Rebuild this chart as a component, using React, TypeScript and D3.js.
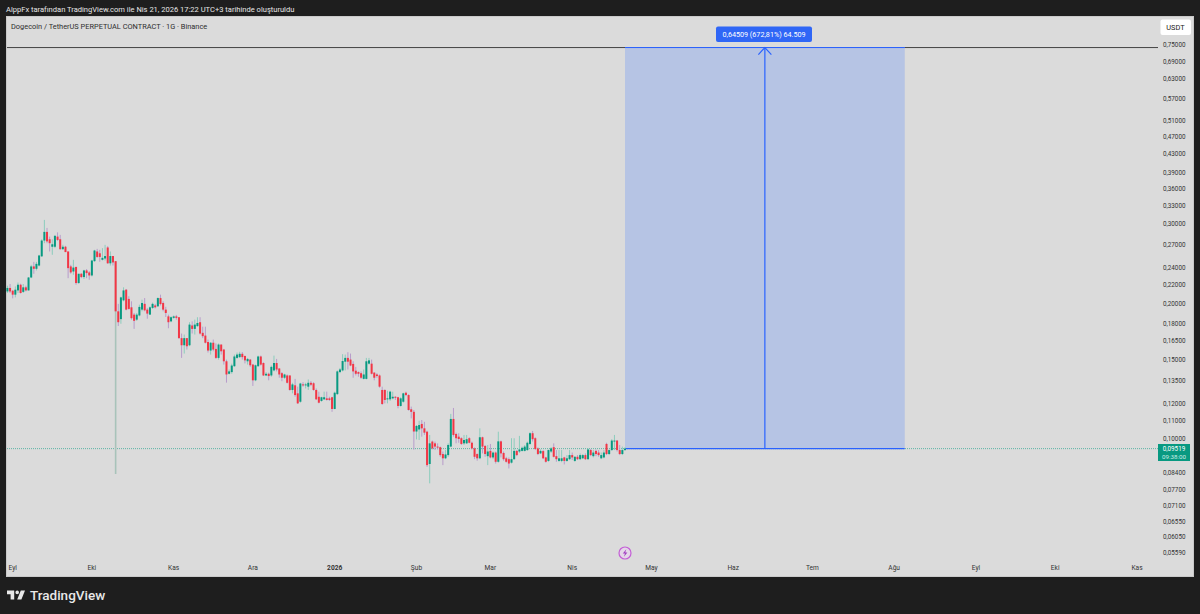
import React from 'react';
import * as d3 from 'd3';

const WIDTH = 1200;
const HEIGHT = 614;
const FONT = "Roboto, 'Noto Sans', sans-serif";

// Daily candles, first one is 2025-08-30
const firstDay = Date.UTC(2025, 7, 30);
const opens = [
  .2127, .2165, .2135, .2092, .2138, .2201, .2122, .2172, .2138, .2284,
  .2417, .2388, .2428, .2545, .2759, .2884, .2777, .2673, .2673, .2815,
  .2777, .2640, .2673, .2609, .2417, .2355, .2410, .2220, .2328, .2289,
  .2368, .2344, .2308, .2483, .2609, .2585, .2500, .2517, .2663, .2456,
  .2549, .2483, .1921, .1846, .2032, .2146, .2047, .1961, .1889, .1841,
  .1881, .1938, .1996, .1938, .1889, .1955, .1980, .1971, .2056, .2005,
  .1938, .1872, .1825, .1858, .1872, .1864, .1675, .1615, .1675, .1615,
  .1787, .1756, .1781, .1817, .1721, .1697, .1642, .1572, .1636, .1585,
  .1514, .1621, .1580, .1488, .1396, .1408, .1451, .1514, .1520, .1546,
  .1529, .1488, .1501, .1463, .1350, .1451, .1525, .1475, .1384, .1396,
  .1384, .1420, .1475, .1434, .1400, .1368, .1384, .1384, .1285, .1316,
  .1263, .1210, .1322, .1316, .1307, .1333, .1330, .1285, .1241, .1215,
  .1225, .1231, .1231, .1238, .1166, .1258, .1408, .1420, .1485, .1514,
  .1501, .1468, .1418, .1408, .1400, .1360, .1360, .1470, .1470, .1404,
  .1391, .1384, .1285, .1285, .1225, .1225, .1231, .1241, .1238, .1184,
  .1210, .1267, .1252, .1164, .1149, .1039, .1050, .1080, .1056, .1038,
  .0880, .0987, .0978, .0962, .0959, .0926, .0906, .0921, .0962, .1108,
  .1026, .1012, .1004, .0978, .0978, .1004, .0981, .0953, .0926, .0906,
  .1009, .0965, .0916, .0941, .0910, .0933, .0890, .0988, .0931, .0906,
  .0902, .0886, .0902, .0941, .0938, .0941, .0941, .0945, .0975, .1030,
  .1004, .0953, .0929, .0940, .0910, .0894, .0938, .0959, .0916, .0894,
  .0894, .0910, .0894, .0902, .0921, .0894, .0913, .0902, .0906, .0921,
  .0902, .0945, .0916, .0941, .0933, .0906, .0910, .0975, .0926, .0945,
  .0987, .0992, .0945, .0926, .0945,
];
const highs = [
  .2190, .2209, .2140, .2182, .2226, .2212, .2209, .2190, .2289, .2437,
  .2474, .2474, .2565, .2777, .3066, .2943, .2815, .2777, .2840, .2877,
  .2840, .2699, .2685, .2609, .2437, .2500, .2417, .2328, .2336, .2376,
  .2384, .2360, .2500, .2631, .2644, .2631, .2654, .2699, .2680, .2609,
  .2549, .2483, .1996, .2070, .2172, .2153, .2075, .2022, .1905, .1905,
  .1988, .2039, .2056, .1955, .1971, .2009, .1996, .2063, .2092, .2022,
  .1966, .1889, .1872, .1881, .1886, .1866, .1715, .1706, .1675, .1817,
  .1825, .1841, .1864, .1864, .1776, .1776, .1663, .1642, .1663, .1630,
  .1630, .1621, .1585, .1501, .1427, .1470, .1540, .1556, .1562, .1560,
  .1532, .1514, .1506, .1468, .1463, .1532, .1532, .1480, .1408, .1404,
  .1456, .1532, .1506, .1438, .1408, .1396, .1391, .1384, .1333, .1360,
  .1307, .1333, .1337, .1333, .1356, .1345, .1337, .1295, .1274, .1241,
  .1274, .1274, .1241, .1241, .1274, .1420, .1438, .1543, .1540, .1559,
  .1548, .1488, .1446, .1413, .1413, .1427, .1514, .1514, .1501, .1408,
  .1400, .1391, .1307, .1289, .1280, .1280, .1274, .1245, .1241, .1238,
  .1267, .1274, .1257, .1180, .1160, .1074, .1098, .1102, .1092, .1043,
  .1021, .0992, .0987, .0978, .0962, .0938, .0945, .0978, .1137, .1172,
  .1033, .1030, .1009, .1021, .1021, .1009, .0987, .0958, .0929, .1056,
  .1012, .0970, .0970, .0975, .0938, .0938, .1038, .0992, .0938, .0913,
  .0910, .1004, .1004, .0945, .1016, .0962, .0970, .0987, .1035, .1042,
  .1009, .0958, .0948, .0945, .0913, .0948, .0959, .0978, .0945, .0945,
  .0945, .0913, .0921, .0945, .0933, .0916, .0921, .0929, .0926, .0929,
  .0953, .0950, .0945, .0948, .0945, .0933, .0945, .0981, .0948, .0999,
  .1021, .0995, .0970, .0962, .0959,
];
const lows = [
  .2110, .2110, .2053, .2063, .2110, .2103, .2110, .2127, .2138, .2276,
  .2328, .2368, .2417, .2537, .2722, .2722, .2609, .2565, .2654, .2754,
  .2631, .2631, .2601, .2276, .2328, .2316, .2201, .2212, .2276, .2266,
  .2276, .2258, .2296, .2475, .2525, .2475, .2491, .2491, .2449, .2428,
  .2428, .0836, .1782, .1803, .2022, .1931, .1938, .1841, .1756, .1830,
  .1872, .1921, .1921, .1850, .1889, .1945, .1950, .1966, .1980, .1921,
  .1866, .1762, .1817, .1850, .1841, .1669, .1514, .1548, .1580, .1607,
  .1715, .1706, .1776, .1706, .1675, .1630, .1556, .1540, .1566, .1506,
  .1501, .1540, .1463, .1334, .1391, .1396, .1446, .1506, .1514, .1501,
  .1472, .1463, .1446, .1312, .1344, .1446, .1456, .1380, .1380, .1350,
  .1375, .1413, .1413, .1368, .1344, .1360, .1328, .1280, .1263, .1241,
  .1196, .1204, .1307, .1295, .1285, .1311, .1280, .1221, .1200, .1210,
  .1221, .1217, .1215, .1149, .1164, .1252, .1400, .1413, .1420, .1427,
  .1451, .1368, .1384, .1375, .1360, .1356, .1356, .1463, .1391, .1350,
  .1368, .1300, .1190, .1200, .1200, .1215, .1225, .1221, .1170, .1180,
  .1204, .1245, .1156, .1111, .0947, .0998, .0995, .1012, .1021, .0867,
  .0797, .0948, .0945, .0948, .0913, .0875, .0902, .0913, .0959, .1012,
  .0978, .0981, .0970, .0970, .0975, .0978, .0948, .0902, .0895, .0902,
  .0929, .0913, .0875, .0906, .0902, .0882, .0886, .0910, .0895, .0886,
  .0860, .0882, .0898, .0916, .0931, .0938, .0938, .0941, .0970, .0987,
  .0945, .0921, .0926, .0902, .0886, .0890, .0931, .0910, .0890, .0890,
  .0888, .0878, .0890, .0898, .0898, .0890, .0898, .0898, .0902, .0898,
  .0898, .0916, .0910, .0916, .0913, .0902, .0906, .0921, .0921, .0941,
  .0945, .0938, .0921, .0921, .0941,
];
const closes = [
  .2165, .2127, .2092, .2146, .2201, .2110, .2172, .2138, .2284, .2417,
  .2388, .2449, .2556, .2759, .2884, .2747, .2722, .2707, .2826, .2768,
  .2640, .2673, .2601, .2396, .2344, .2403, .2220, .2328, .2289, .2368,
  .2336, .2308, .2491, .2622, .2537, .2537, .2525, .2549, .2456, .2549,
  .2467, .1921, .1817, .2063, .2138, .1938, .1945, .1855, .1830, .1889,
  .1965, .2005, .1931, .1899, .1961, .1996, .1961, .2056, .1994, .1938,
  .1905, .1817, .1864, .1872, .1858, .1675, .1615, .1675, .1607, .1795,
  .1756, .1795, .1810, .1715, .1692, .1636, .1572, .1636, .1580, .1514,
  .1621, .1566, .1488, .1391, .1413, .1456, .1525, .1540, .1546, .1520,
  .1495, .1506, .1458, .1350, .1458, .1525, .1463, .1384, .1396, .1380,
  .1446, .1475, .1427, .1391, .1368, .1391, .1333, .1285, .1322, .1252,
  .1200, .1328, .1316, .1322, .1333, .1320, .1285, .1225, .1204, .1238,
  .1238, .1221, .1221, .1166, .1267, .1413, .1427, .1490, .1514, .1485,
  .1456, .1413, .1396, .1396, .1368, .1391, .1488, .1495, .1396, .1368,
  .1380, .1307, .1196, .1221, .1231, .1274, .1241, .1238, .1184, .1231,
  .1263, .1252, .1160, .1149, .1039, .1069, .1074, .1056, .1033, .0875,
  .0978, .0953, .0962, .0958, .0921, .0906, .0924, .0970, .1108, .1021,
  .1004, .1000, .0975, .0995, .0999, .0981, .0953, .0913, .0906, .1009,
  .0962, .0926, .0938, .0910, .0933, .0890, .0988, .0929, .0902, .0890,
  .0882, .0902, .0941, .0921, .0948, .0956, .0962, .0981, .1030, .0999,
  .0950, .0926, .0941, .0906, .0890, .0945, .0953, .0913, .0902, .0906,
  .0906, .0894, .0906, .0921, .0910, .0913, .0902, .0921, .0921, .0902,
  .0948, .0921, .0933, .0926, .0921, .0921, .0933, .0926, .0945, .0992,
  .0992, .0945, .0926, .0945, .0952,
];

const priceTicks = [
  0.75, 0.69, 0.63, 0.57, 0.51, 0.47, 0.43, 0.39, 0.36, 0.33, 0.3, 0.27, 0.24, 0.22,
  0.2, 0.18, 0.165, 0.15, 0.135, 0.12, 0.11, 0.1, 0.084, 0.077, 0.071, 0.0655, 0.0605, 0.0559,
];
const monthLabels = ['Eyl', 'Eki', 'Kas', 'Ara', '2026', 'Şub', 'Mar', 'Nis', 'May', 'Haz', 'Tem', 'Ağu', 'Eyl', 'Eki', 'Kas'];
const monthDates = [
  [2025, 8], [2025, 9], [2025, 10], [2025, 11], [2026, 0], [2026, 1], [2026, 2], [2026, 3],
  [2026, 4], [2026, 5], [2026, 6], [2026, 7], [2026, 8], [2026, 9], [2026, 10],
].map(([y, m]) => new Date(Date.UTC(y, m, 1)));

const lastPrice = 0.09519;
const entryPrice = 0.0952;
const targetPrice = 0.74029;
const positionStart = new Date(Date.UTC(2026, 3, 21));
const positionEnd = new Date(Date.UTC(2026, 7, 5));
const positionMid = new Date(Date.UTC(2026, 5, 13));
const crashIndex = 41; // the Oct 10 wick shows up grey-green instead of purple

const TEAL = '#089981';
const RED = '#f23645';
const BLUE = '#2962ff';

const x = d3.scaleUtc().domain([monthDates[0], monthDates[14]]).range([12.7, 1137]);
const y = d3.scaleLog().domain([0.75, 0.1]).range([45, 439]);
const fmt = (v: number) => v.toFixed(5).replace('.', ',');

const App: React.FC = () => {
  const candles = d3.range(opens.length).map((i) => ({
    x: x(new Date(firstDay + i * 86400000)),
    o: opens[i],
    h: highs[i],
    l: lows[i],
    c: closes[i],
  }));
  const boxLeft = x(positionStart);
  const boxRight = x(positionEnd);
  const arrowX = x(positionMid);
  const top = y(targetPrice);
  const bottom = y(entryPrice);

  return (
    <svg width={WIDTH} height={HEIGHT} style={{ position: 'absolute', left: 0, top: 0, fontFamily: FONT }}>
      <rect width={WIDTH} height={HEIGHT} fill="#1e1e1e" />
      <text x={6} y={11.5} fontSize={7.55} fill="#e6e6e6">
        AlppFx tarafından TradingView.com ile Nis 21, 2026 17:22 UTC+3 tarihinde oluşturuldu
      </text>

      {/* pane */}
      <rect x={6.5} y={16.5} width={1187} height={560} fill="#dbdbdb" stroke="#c9c9c9" />
      <text x={11} y={28.5} fontSize={7.4} fill="#2e2e2e">
        Dogecoin / TetherUS PERPETUAL CONTRACT · 1G · Binance
      </text>
      <line x1={7} x2={1158} y1={top} y2={top} stroke="#444" />
      <line x1={7} x2={1158} y1={y(lastPrice)} y2={y(lastPrice)} stroke={TEAL} strokeOpacity={0.6} strokeDasharray="1 1" />

      {/* long position box */}
      <rect x={boxLeft} y={top} width={boxRight - boxLeft} height={bottom - top} fill="#b6c4e4" />
      <line x1={boxLeft} x2={boxRight} y1={top} y2={top} stroke={BLUE} />
      <line x1={boxLeft} x2={boxRight} y1={bottom} y2={bottom} stroke={BLUE} strokeWidth={1.3} />
      <line x1={arrowX} x2={arrowX} y1={bottom} y2={top} stroke={BLUE} strokeWidth={1.2} />
      <path d={`M${arrowX - 6.5},${top + 7}L${arrowX},${top}L${arrowX + 6.5},${top + 7}`} fill="none" stroke={BLUE} strokeWidth={1.2} />

      {/* candles */}
      {candles.map((d, i) => {
        const up = d.c >= d.o;
        const bodyTop = y(Math.max(d.o, d.c));
        const bodyBottom = y(Math.min(d.o, d.c));
        return (
          <g key={i}>
            <line
              x1={d.x}
              x2={d.x}
              y1={y(d.h)}
              y2={y(d.l)}
              stroke={i === crashIndex ? '#a8c3ba' : up ? '#8ccdbd' : '#b89ccb'}
              strokeWidth={i === crashIndex ? 1.6 : 1}
            />
            <rect
              x={d.x - 1}
              y={bodyTop}
              width={2}
              height={Math.max(bodyBottom - bodyTop, 1)}
              fill={up ? TEAL : RED}
            />
          </g>
        );
      })}

      {/* price scale */}
      {priceTicks.map((t) => (
        <text key={t} x={1163} y={y(t)} dy="0.35em" fontSize={6.3} fill="#333">
          {fmt(t)}
        </text>
      ))}
      <rect x={1158} y={444} width={32} height={17} fill={TEAL} />
      <text x={1174} y={451.2} textAnchor="middle" fontSize={6.3} fill="#fff">
        {fmt(lastPrice)}
      </text>
      <text x={1174} y={458.5} textAnchor="middle" fontSize={6.2} fill="#cdeee6">
        09:38:00
      </text>
      <rect x={1160.5} y={19.5} width={30.5} height={15.5} rx={2} fill="#fff" />
      <text x={1175.5} y={30} textAnchor="middle" fontSize={7.4} fill="#222">
        USDT
      </text>

      {/* time scale */}
      {monthLabels.map((label, i) => (
        <text
          key={i}
          x={x(monthDates[i])}
          y={570}
          textAnchor="middle"
          fontSize={6.6}
          fontWeight={label === '2026' ? 700 : 400}
          fill="#333"
        >
          {label}
        </text>
      ))}

      {/* position label */}
      <rect x={716} y={26.5} width={96} height={15.5} rx={2} fill="#2f66f6" />
      <text x={764} y={36.8} textAnchor="middle" fontSize={7.2} fill="#fff">
        0,64509 (672,81%) 64.509
      </text>

      {/* lightning marker */}
      <circle cx={625} cy={553} r={6} fill="#e4d6e8" stroke="#c45ed6" strokeWidth={1.2} />
      <path d="M626.3,549.2L622.8,553.6H625L623.9,556.8L627.4,552.4H625.2Z" fill="#a13cc0" />

      {/* footer */}
      <g transform="translate(5.8,587) scale(0.6)" fill="#e8e8e8">
        <path d="M14 6H2v6h6v9h6V6Zm12 15h-7l6-15h7l-6 15Zm-7-9a3 3 0 1 0 0-6 3 3 0 0 0 0 6Z" />
      </g>
      <text x={30} y={600} fontSize={13.5} fontWeight={500} fill="#e8e8e8">
        TradingView
      </text>
    </svg>
  );
};

export default App;
